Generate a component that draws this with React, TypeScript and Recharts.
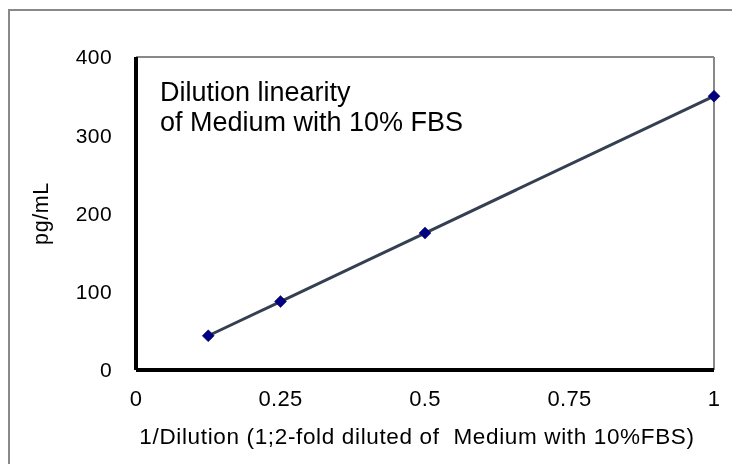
import { Label, Line, LineChart, ReferenceLine, XAxis, YAxis } from "recharts";

const dilution = [0.125, 0.25, 0.5, 1];
const concentration = [43.75, 87.5, 175, 350];
const xTicks = [0, 0.25, 0.5, 0.75, 1];
const yTicks = [0, 100, 200, 300, 400];

const data = dilution.map((x, i) => ({ x, y: concentration[i] }));

const font = "'Liberation Sans', Arial, sans-serif";
const xTickText = { fontSize: 22, letterSpacing: 0.3, fontFamily: font, fill: "#000" };
const yTickText = { fontSize: 21, letterSpacing: 0.4, fontFamily: font, fill: "#000" };

function XTick(props: any) {
  const { x, y, payload } = props;
  return (
    <text x={x} y={y} dy="0.71em" textAnchor="middle" style={xTickText}>
      {String(payload.value)}
    </text>
  );
}

function YTick(props: any) {
  const { x, y, payload } = props;
  return (
    <text x={x} y={y} dy="0.355em" textAnchor="end" style={yTickText}>
      {String(payload.value)}
    </text>
  );
}

function Diamond(props: any) {
  const { cx, cy } = props;
  if (cx == null || cy == null) return null;
  const r = 6;
  return (
    <polygon
      points={`${cx},${cy - r} ${cx + r},${cy} ${cx},${cy + r} ${cx - r},${cy}`}
      fill="#000080"
      stroke="#000060"
      strokeWidth={0.5}
    />
  );
}

export default function App() {
  return (
    <div style={{ position: "fixed", left: 8, top: 8, width: 724, height: 456, fontFamily: font }}>
      <div
        style={{
          position: "absolute",
          left: 0,
          top: 1,
          width: 722,
          height: 453,
          borderLeft: "2px solid #888",
          borderTop: "2px solid #888",
        }}
      />
      <LineChart
        width={724}
        height={456}
        data={data}
        margin={{ top: 49, right: 18, bottom: 14, left: 8 }}
        style={{ position: "absolute", left: 0, top: 0 }}
      >
        <XAxis
          dataKey="x"
          type="number"
          domain={[0, 1]}
          ticks={xTicks}
          height={80}
          tickLine={false}
          tickMargin={14}
          axisLine={{ stroke: "#000", strokeWidth: 4 }}
          tick={<XTick />}
        >
          <Label
            position="insideBottom"
            content={(p: any) => {
              const vb = p.viewBox;
              return (
                <text
                  x={vb.x + vb.width / 2}
                  y={vb.y + vb.height - 6}
                  dx={-8}
                  textAnchor="middle"
                  style={{
                    fontSize: 22.5,
                    letterSpacing: 0.65,
                    fontFamily: font,
                    fill: "#000",
                    whiteSpace: "pre",
                  }}
                >
                  {"1/Dilution (1;2-fold diluted of  Medium with 10%FBS)"}
                </text>
              );
            }}
          />
        </XAxis>
        <YAxis
          dataKey="y"
          type="number"
          domain={[0, 400]}
          ticks={yTicks}
          width={120}
          tickLine={false}
          tickMargin={18}
          axisLine={{ stroke: "#000", strokeWidth: 4 }}
          tick={<YTick />}
        >
          <Label
            position="insideLeft"
            content={(p: any) => {
              const vb = p.viewBox;
              const cx = vb.x + 32;
              const cy = vb.y + vb.height / 2;
              return (
                <text
                  x={cx}
                  y={cy}
                  textAnchor="middle"
                  transform={`rotate(-90 ${cx} ${cy})`}
                  style={{ fontSize: 21.5, letterSpacing: 0.6, fontFamily: font, fill: "#000" }}
                >
                  pg/mL
                </text>
              );
            }}
          />
        </YAxis>
        <ReferenceLine y={400} stroke="#888" strokeWidth={2} />
        <ReferenceLine x={1} stroke="#888" strokeWidth={2} />
        <Line
          dataKey="y"
          stroke="#343f52"
          strokeWidth={3}
          dot={<Diamond />}
          isAnimationActive={false}
        />
      </LineChart>
      <div
        style={{
          position: "absolute",
          left: 152,
          top: 69,
          fontSize: 27,
          lineHeight: "30px",
          color: "#000",
        }}
      >
        Dilution linearity
        <br />
        of Medium with 10% FBS
      </div>
    </div>
  );
}
